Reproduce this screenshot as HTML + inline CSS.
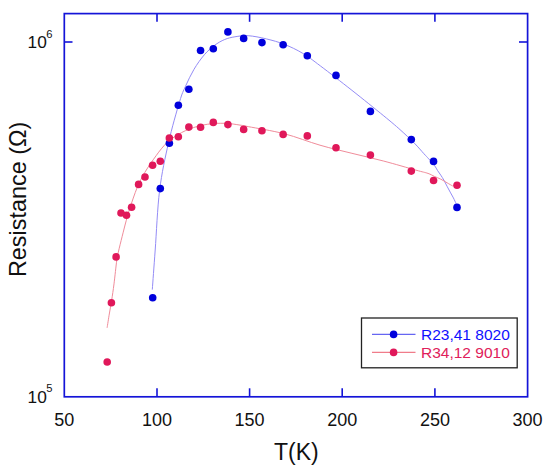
<!DOCTYPE html>
<html><head><meta charset="utf-8"><style>
html,body{margin:0;padding:0;background:#fff;}
body{width:550px;height:470px;overflow:hidden;}
svg{display:block;font-family:"Liberation Sans",sans-serif;}
</style></head><body>
<svg width="550" height="470" viewBox="0 0 550 470">
<rect x="0" y="0" width="550" height="470" fill="#fff"/>
<path d="M152.30,289.60 C152.78,283.00 153.98,266.53 155.20,250.00 C156.42,233.47 157.38,208.27 159.60,190.40 C161.82,172.53 165.17,157.60 168.50,142.80 C171.83,128.00 176.77,111.02 179.60,101.60 C182.43,92.18 183.10,91.68 185.50,86.30 C187.90,80.92 190.87,74.55 194.00,69.30 C197.13,64.05 200.88,58.78 204.30,54.80 C207.72,50.82 211.10,47.95 214.50,45.40 C217.90,42.85 221.30,40.93 224.70,39.50 C228.10,38.07 230.98,37.43 234.90,36.80 C238.82,36.17 242.95,35.35 248.20,35.70 C253.45,36.05 260.35,37.45 266.40,38.90 C272.45,40.35 278.45,42.00 284.50,44.40 C290.55,46.80 296.70,49.70 302.70,53.30 C308.70,56.90 312.30,59.83 320.50,66.00 C328.70,72.17 341.35,81.98 351.90,90.30 C362.45,98.62 375.78,109.35 383.80,115.90 C391.82,122.45 394.90,125.05 400.00,129.60 C405.10,134.15 410.42,139.18 414.40,143.20 C418.38,147.22 421.52,151.10 423.90,153.70 C426.28,156.30 426.95,156.87 428.70,158.80 C430.45,160.73 432.92,163.33 434.40,165.30 C435.88,167.27 436.53,168.95 437.60,170.60 C438.67,172.25 439.77,173.63 440.80,175.20 C441.83,176.77 442.77,178.17 443.80,180.00 C444.83,181.83 445.93,184.18 447.00,186.20 C448.07,188.22 449.13,190.15 450.20,192.10 C451.27,194.05 452.42,195.98 453.40,197.90 C454.38,199.82 455.65,202.65 456.10,203.60" fill="none" stroke="#948cf6" stroke-width="1"/>
<path d="M107.10,327.80 C107.47,325.50 108.53,318.63 109.30,314.00 C110.07,309.37 110.92,305.02 111.70,300.00 C112.48,294.98 113.15,290.57 114.00,283.90 C114.85,277.23 116.08,265.28 116.80,260.00 C117.52,254.72 117.40,256.15 118.30,252.20 C119.20,248.25 120.87,241.62 122.20,236.30 C123.53,230.98 125.03,224.97 126.30,220.30 C127.57,215.63 127.98,213.77 129.80,208.30 C131.62,202.83 134.72,193.45 137.20,187.50 C139.68,181.55 141.97,177.32 144.70,172.60 C147.43,167.88 150.38,163.68 153.60,159.20 C156.82,154.72 160.52,149.43 164.00,145.70 C167.48,141.97 170.27,139.58 174.50,136.80 C178.73,134.02 183.95,131.08 189.40,129.00 C194.85,126.92 201.25,125.25 207.20,124.30 C213.15,123.35 219.63,123.17 225.10,123.30 C230.57,123.43 236.15,124.55 240.00,125.10 C243.85,125.65 240.78,125.15 248.20,126.60 C255.62,128.05 272.53,130.70 284.50,133.80 C296.47,136.90 308.77,141.95 320.00,145.20 C331.23,148.45 341.27,150.65 351.90,153.30 C362.53,155.95 373.15,158.30 383.80,161.10 C394.45,163.90 408.43,168.05 415.80,170.10 C423.17,172.15 424.90,172.35 428.00,173.40 C431.10,174.45 432.27,175.43 434.40,176.40 C436.53,177.37 438.68,178.13 440.80,179.20 C442.92,180.27 445.10,181.65 447.10,182.80 C449.10,183.95 451.85,185.55 452.80,186.10" fill="none" stroke="#f08c9a" stroke-width="1"/>
<circle cx="152.70" cy="297.70" r="3.80" fill="#0000dc"/>
<circle cx="160.30" cy="188.60" r="3.80" fill="#0000dc"/>
<circle cx="169.35" cy="143.30" r="3.80" fill="#0000dc"/>
<circle cx="178.35" cy="105.20" r="3.80" fill="#0000dc"/>
<circle cx="188.85" cy="89.20" r="3.80" fill="#0000dc"/>
<circle cx="200.55" cy="50.50" r="3.80" fill="#0000dc"/>
<circle cx="213.30" cy="48.70" r="3.80" fill="#0000dc"/>
<circle cx="227.90" cy="31.90" r="3.80" fill="#0000dc"/>
<circle cx="243.65" cy="38.40" r="3.80" fill="#0000dc"/>
<circle cx="261.95" cy="42.60" r="3.80" fill="#0000dc"/>
<circle cx="283.15" cy="44.80" r="3.80" fill="#0000dc"/>
<circle cx="307.30" cy="55.70" r="3.80" fill="#0000dc"/>
<circle cx="336.00" cy="75.40" r="3.80" fill="#0000dc"/>
<circle cx="370.40" cy="111.40" r="3.80" fill="#0000dc"/>
<circle cx="411.30" cy="139.60" r="3.80" fill="#0000dc"/>
<circle cx="433.55" cy="161.40" r="3.80" fill="#0000dc"/>
<circle cx="457.00" cy="207.40" r="3.80" fill="#0000dc"/>
<circle cx="107.20" cy="362.00" r="3.80" fill="#e0185a"/>
<circle cx="111.40" cy="302.80" r="3.80" fill="#e0185a"/>
<circle cx="116.10" cy="256.90" r="3.80" fill="#e0185a"/>
<circle cx="121.00" cy="213.00" r="3.80" fill="#e0185a"/>
<circle cx="126.50" cy="215.20" r="3.80" fill="#e0185a"/>
<circle cx="131.60" cy="207.20" r="3.80" fill="#e0185a"/>
<circle cx="138.60" cy="184.40" r="3.80" fill="#e0185a"/>
<circle cx="145.00" cy="177.00" r="3.80" fill="#e0185a"/>
<circle cx="152.60" cy="165.30" r="3.80" fill="#e0185a"/>
<circle cx="160.30" cy="161.30" r="3.80" fill="#e0185a"/>
<circle cx="169.35" cy="138.00" r="3.80" fill="#e0185a"/>
<circle cx="178.35" cy="136.70" r="3.80" fill="#e0185a"/>
<circle cx="188.85" cy="127.10" r="3.80" fill="#e0185a"/>
<circle cx="200.55" cy="127.20" r="3.80" fill="#e0185a"/>
<circle cx="213.30" cy="122.40" r="3.80" fill="#e0185a"/>
<circle cx="227.90" cy="124.60" r="3.80" fill="#e0185a"/>
<circle cx="243.65" cy="129.40" r="3.80" fill="#e0185a"/>
<circle cx="261.95" cy="130.80" r="3.80" fill="#e0185a"/>
<circle cx="283.15" cy="134.40" r="3.80" fill="#e0185a"/>
<circle cx="307.30" cy="135.90" r="3.80" fill="#e0185a"/>
<circle cx="336.00" cy="147.80" r="3.80" fill="#e0185a"/>
<circle cx="370.40" cy="155.10" r="3.80" fill="#e0185a"/>
<circle cx="411.30" cy="171.10" r="3.80" fill="#e0185a"/>
<circle cx="433.55" cy="180.50" r="3.80" fill="#e0185a"/>
<circle cx="457.00" cy="185.20" r="3.80" fill="#e0185a"/>
<rect x="64.3" y="13.6" width="463.3" height="383.2" fill="none" stroke="#1414d8" stroke-width="1.7"/>
<g stroke="#1414d8" stroke-width="1.6"><line x1="157.0" y1="14" x2="157.0" y2="21.8" /><line x1="157.0" y1="396.5" x2="157.0" y2="388.3" /><line x1="249.6" y1="14" x2="249.6" y2="21.8" /><line x1="249.6" y1="396.5" x2="249.6" y2="388.3" /><line x1="342.2" y1="14" x2="342.2" y2="21.8" /><line x1="342.2" y1="396.5" x2="342.2" y2="388.3" /><line x1="434.9" y1="14" x2="434.9" y2="21.8" /><line x1="434.9" y1="396.5" x2="434.9" y2="388.3" /><line x1="64.5" y1="42" x2="72.5" y2="42" /><line x1="527.5" y1="42" x2="519" y2="42" /></g>
<g fill="#111"><text x="64.3" y="425.5" text-anchor="middle" font-size="18">50</text><text x="157.0" y="425.5" text-anchor="middle" font-size="18">100</text><text x="249.6" y="425.5" text-anchor="middle" font-size="18">150</text><text x="342.2" y="425.5" text-anchor="middle" font-size="18">200</text><text x="434.9" y="425.5" text-anchor="middle" font-size="18">250</text><text x="527.6" y="425.5" text-anchor="middle" font-size="18">300</text>
<text x="27.6" y="47.6" font-size="17.3">10</text><text x="46.2" y="38.0" font-size="11.2">6</text>
<text x="27.6" y="402.6" font-size="17.3">10</text><text x="46.2" y="392.1" font-size="11.2">5</text>
<text x="296.3" y="459.8" text-anchor="middle" font-size="23">T(K)</text>
<text transform="translate(25.8,199.4) rotate(-90)" text-anchor="middle" font-size="23.4">Resistance (&#937;)</text>
</g>
<rect x="361.5" y="318" width="155.7" height="49.8" fill="#fff" stroke="#222" stroke-width="1.3"/>
<line x1="372" y1="334.4" x2="415.5" y2="334.4" stroke="#6666f2" stroke-width="1.3"/>
<circle cx="393.6" cy="334.4" r="3.8" fill="#0000dc"/>
<line x1="372" y1="352.4" x2="415.5" y2="352.4" stroke="#f07c8a" stroke-width="1.3"/>
<circle cx="393.6" cy="352.4" r="3.8" fill="#e0185a"/>
<text x="421" y="340.1" font-size="15.5" fill="#1010ff">R23,41 8020</text>
<text x="421" y="358.4" font-size="15.5" fill="#e0205a">R34,12 9010</text>
</svg>
</body></html>
